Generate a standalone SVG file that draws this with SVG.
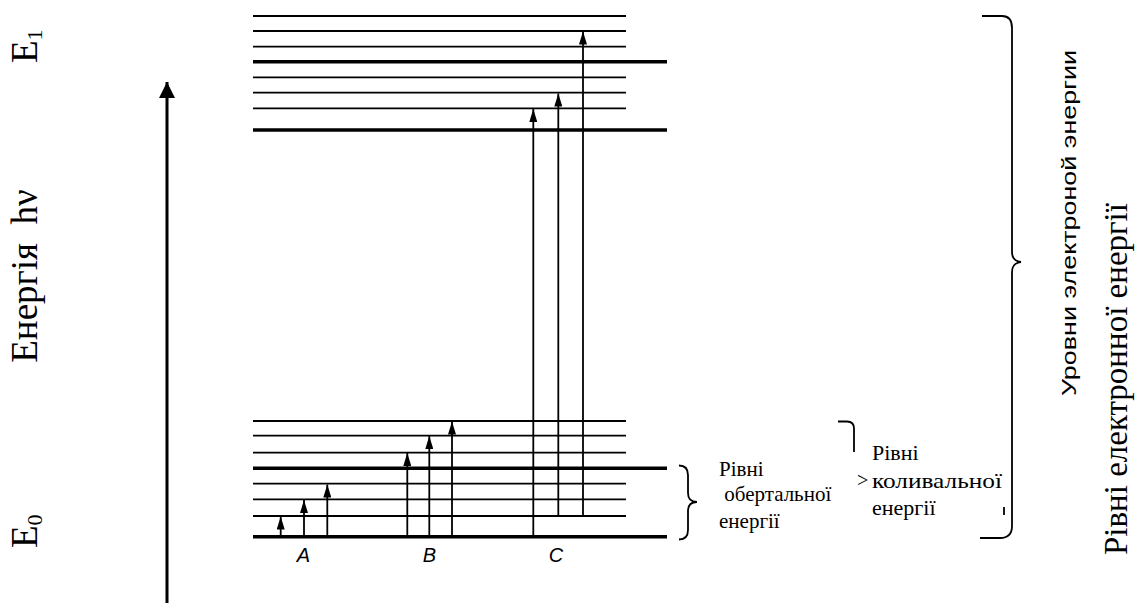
<svg xmlns="http://www.w3.org/2000/svg" width="1135" height="603" viewBox="0 0 1135 603">
<style>
.thin{stroke:#000;stroke-width:1.8;fill:none}
.thick{stroke:#000;stroke-width:3.4;fill:none}
.arr{stroke:#000;stroke-width:1.8;fill:none;marker-end:url(#ah)}
.br{stroke:#000;stroke-width:1.8;fill:none}
.serif{font-family:"Liberation Serif","Times New Roman",serif;fill:#000}
.sans{font-family:"Liberation Sans",Arial,sans-serif;fill:#000}
</style>
<defs>
<marker id="ah" markerWidth="13" markerHeight="8" refX="13" refY="4" orient="auto" markerUnits="userSpaceOnUse" viewBox="0 0 13 8">
<path d="M0,0 L13,4 L0,8 Z" fill="#000"/>
</marker>
<marker id="bigah" markerWidth="16" markerHeight="16" refX="16" refY="8" orient="auto" markerUnits="userSpaceOnUse" viewBox="0 0 16 16">
<path d="M0,0 L16,8 L0,16 Z" fill="#000"/>
</marker>
</defs>

<g id="energy-axis">
<line x1="167" y1="603" x2="167" y2="82" stroke="#000" stroke-width="3" marker-end="url(#bigah)"/>
<text class="serif" font-size="37" transform="translate(37,276) rotate(-90)" text-anchor="middle" xml:space="preserve">Енергія  hν</text>
<text class="serif" font-size="37" transform="translate(37,63) rotate(-90)">E<tspan font-size="22" dy="5">1</tspan></text>
<text class="serif" font-size="37" transform="translate(37,548) rotate(-90)">E<tspan font-size="22" dy="5">0</tspan></text>
</g>

<g id="upper-levels">
<line class="thin" x1="253" y1="16" x2="626" y2="16"/>
<line class="thin" x1="253" y1="31" x2="626" y2="31"/>
<line class="thin" x1="253" y1="46.7" x2="626" y2="46.7"/>
<line class="thick" x1="253" y1="61.7" x2="667" y2="61.7"/>
<line class="thin" x1="253" y1="77.3" x2="626" y2="77.3"/>
<line class="thin" x1="253" y1="92.7" x2="626" y2="92.7"/>
<line class="thin" x1="253" y1="108.3" x2="626" y2="108.3"/>
<line class="thick" x1="253" y1="130" x2="667" y2="130"/>
</g>

<g id="lower-levels">
<line class="thin" x1="253" y1="421" x2="626" y2="421"/>
<line class="thin" x1="253" y1="435.7" x2="626" y2="435.7"/>
<line class="thin" x1="253" y1="452.7" x2="626" y2="452.7"/>
<line class="thick" x1="253" y1="468.3" x2="667" y2="468.3"/>
<line class="thin" x1="253" y1="483.7" x2="626" y2="483.7"/>
<line class="thin" x1="253" y1="499.3" x2="626" y2="499.3"/>
<line class="thin" x1="253" y1="516" x2="626" y2="516"/>
<line class="thick" x1="253" y1="536.7" x2="667" y2="536.7"/>
</g>

<g id="connectors">
<line class="arr" x1="280.7" y1="536" x2="280.7" y2="516.5"/>
<line class="arr" x1="304" y1="536" x2="304" y2="500"/>
<line class="arr" x1="327.3" y1="536" x2="327.3" y2="484.5"/>
<line class="arr" x1="407.3" y1="536" x2="407.3" y2="453"/>
<line class="arr" x1="429.3" y1="536" x2="429.3" y2="436"/>
<line class="arr" x1="452" y1="536" x2="452" y2="421.5"/>
<line class="arr" x1="533.3" y1="536" x2="533.3" y2="109"/>
<line class="arr" x1="558.3" y1="516" x2="558.3" y2="93.5"/>
<line class="arr" x1="583" y1="516" x2="583" y2="31.5"/>
</g>

<g id="labels-abc">
<text class="sans" font-size="20" font-style="italic" x="303.3" y="562" text-anchor="middle">A</text>
<text class="sans" font-size="20" font-style="italic" x="429.3" y="562" text-anchor="middle">B</text>
<text class="sans" font-size="20" font-style="italic" x="556" y="562" text-anchor="middle">C</text>
</g>

<g id="rotational">
<path class="br" d="M679,465.5 Q688,465.5 688,475 V493 Q688,502 697,502 Q688,502 688,511 V530 Q688,539.5 679,539.5"/>
<text class="serif" font-size="21" x="719" y="476">Рівні</text>
<text class="serif" font-size="21" x="719" y="501" xml:space="preserve"> обертальної</text>
<text class="serif" font-size="21" x="719" y="528">енергії</text>
</g>

<g id="vibrational">
<path class="br" d="M838,421.5 H847 Q854,421.5 854,428.5 V452"/>
<text class="serif" font-size="22" x="872" y="460">Рівні</text>
<text class="serif" font-size="20" x="857" y="487">&gt;</text>
<text class="serif" font-size="22" x="872" y="488" textLength="130" lengthAdjust="spacingAndGlyphs">коливальної</text>
<text class="serif" font-size="22" x="872" y="515">енергії</text>
</g>

<g id="electronic">
<path class="br" d="M982,16 H1002 Q1012,16 1012,28 V252 Q1012,261 1021,262 Q1012,263 1012,272 V526 Q1012,538 1000,538 H980"/>
<line class="br" x1="1004" y1="507" x2="1004" y2="515" stroke-width="1"/>
<text class="sans" font-size="20" transform="translate(1076,396) rotate(-90)" textLength="346" lengthAdjust="spacingAndGlyphs">Уровни электроной энергии</text>
<text class="serif" font-size="33" transform="translate(1127,555) rotate(-90)">Рівні електронної енергії</text>
</g>
</svg>
